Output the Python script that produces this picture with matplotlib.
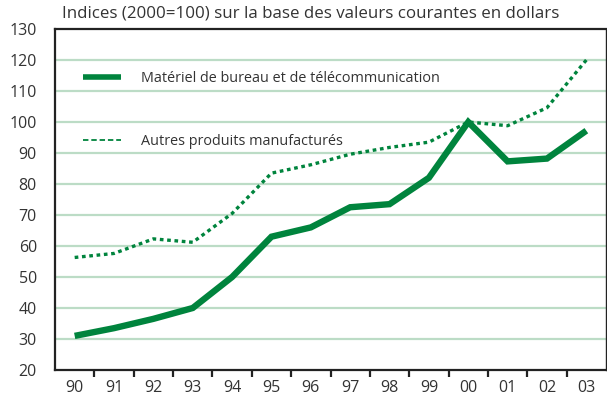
import matplotlib
matplotlib.use("Agg")
import matplotlib.pyplot as plt
from matplotlib.lines import Line2D

# Données (indices 2000=100)
annees = ["90", "91", "92", "93", "94", "95", "96", "97", "98", "99", "00", "01", "02", "03"]
materiel_bureau = [31, 33.5, 36.5, 40, 50, 63, 66, 72.5, 73.5, 82, 100, 87.3, 88.2, 97.2]
autres_produits = [56.3, 57.6, 62.3, 61.2, 70.5, 83.5, 86.2, 89.6, 91.8, 93.5, 100, 98.8, 104.6, 120]
y_ticks = list(range(20, 131, 10))

titre = "Indices (2000=100) sur la base des valeurs courantes en dollars"
label_1 = "Matériel de bureau et de télécommunication"
label_2 = "Autres produits manufacturés"

vert = "#00843d"
grille = "#bcdcc6"
texte = "#333333"

plt.rcParams["font.family"] = ["Open Sans", "DejaVu Sans"]

fig = plt.figure(figsize=(6.07, 4.01), dpi=100)
ax = fig.add_axes([55 / 607, 31 / 401, 551 / 607, 341 / 401])

x = list(range(len(annees)))
ax.plot(x, materiel_bureau, color=vert, linewidth=4.6, solid_joinstyle="miter",
        solid_capstyle="butt", zorder=3)
ax.plot(x, autres_produits, color=vert, linewidth=2.4, dashes=(1.1, 1.1), zorder=3)

ax.set_xlim(-0.5, len(annees) - 0.5)
ax.set_ylim(20, 130)
ax.set_yticks(y_ticks)
ax.set_yticklabels([str(v) for v in y_ticks])
for v in y_ticks[1:-1]:
    ax.axhline(v, color=grille, linewidth=1.6, zorder=1)

ax.set_xticks(x)
ax.set_xticklabels(annees)
ax.set_xticks([i + 0.5 for i in x[:-1]], minor=True)
ax.tick_params(axis="x", which="major", length=0, pad=7, labelsize=11.5, labelcolor=texte)
ax.tick_params(axis="x", which="minor", length=5, width=1.6, direction="out", color="#222222")
ax.tick_params(axis="y", length=0, pad=13, labelsize=11.5, labelcolor=texte)

for s in ["left", "top", "bottom"]:
    ax.spines[s].set_linewidth(1.6)
    ax.spines[s].set_color("#222222")
ax.spines["right"].set_linewidth(1.0)
ax.spines["right"].set_color("#222222")

# légende : poignée pleine et tirets plus longs comme dans l'original
poignees = [
    Line2D([], [], color=vert, linewidth=4.0, solid_capstyle="butt"),
    Line2D([], [], color=vert, linewidth=1.3, dashes=(3, 1.6)),
]
leg = ax.legend(poignees, [label_1, label_2], loc="upper left", bbox_to_anchor=(0.05, 0.877),
                frameon=False, fontsize=10.4, labelspacing=3.35, handlelength=2.65,
                handletextpad=1.4, borderpad=0, borderaxespad=0)
for t in leg.get_texts():
    t.set_color(texte)

fig.text(62 / 607, 1 - 14 / 401, titre, fontsize=12.2, color=texte, va="center", ha="left")

fig.savefig("out.png", dpi=100)
